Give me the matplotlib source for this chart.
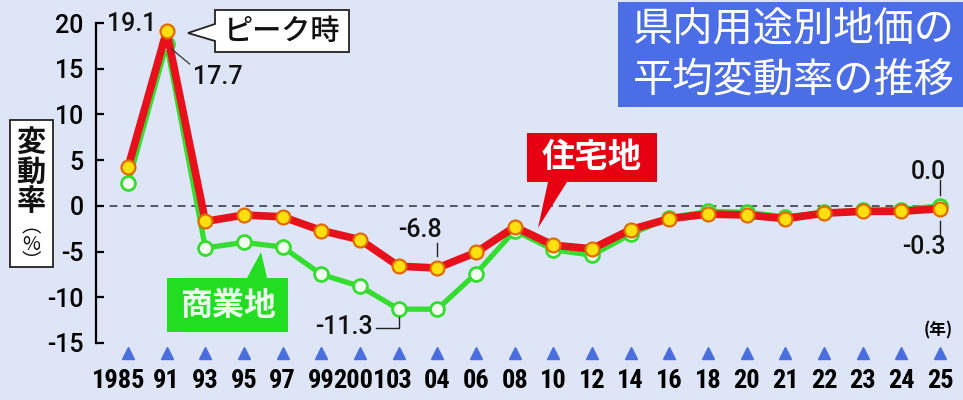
import matplotlib
matplotlib.use('Agg')
import matplotlib.pyplot as plt
from matplotlib.patches import Rectangle, Polygon
from matplotlib.lines import Line2D
from matplotlib.transforms import IdentityTransform, ScaledTranslation

# ---------------- data ----------------
years = ['1985', '91', '93', '95', '97', '99', '2001', '03', '04', '06', '08',
         '10', '12', '14', '16', '18', '20', '21', '22', '23', '24', '25']
residential = [4.2, 19.1, -1.7, -1.0, -1.2, -2.7, -3.7, -6.6, -6.8, -5.1, -2.3,
               -4.3, -4.7, -2.6, -1.4, -0.9, -1.0, -1.4, -0.8, -0.6, -0.6, -0.3]
commercial = [2.5, 17.7, -4.6, -4.0, -4.5, -7.5, -8.8, -11.3, -11.3, -7.4, -2.7,
              -4.8, -5.4, -3.1, -1.3, -0.6, -0.7, -1.2, -0.7, -0.5, -0.4, 0.0]
yticks = [20, 15, 10, 5, 0, -5, -10, -15]
title_lines = ['県内用途別地価の', '平均変動率の推移']
label_res = '住宅地'
label_com = '商業地'
peak_label = 'ピーク時'
ylabel_chars = ['変', '動', '率']
ylabel_unit = '︵\n%\n︶'
unit_label = '(年)'

# ---------------- style ----------------
W, H = 963, 400
BG = '#dde5f6'
RED = '#e8101a'
GREEN = '#35dd30'
YELLOW = '#ffdf10'
ORANGE = '#e06a00'
BLUE_TRI = '#4a6ee0'
TITLE_BLUE = '#4b6ee6'
CJK = ['Noto Sans CJK JP', 'DejaVu Sans']
NUM = ['Roboto', 'DejaVu Sans']
NUMN = ['Roboto Condensed', 'DejaVu Sans']

fig = plt.figure(figsize=(W / 100, H / 100), dpi=100)
fig.patch.set_facecolor(BG)


def fx(x):
    return x / W


def fy(y):
    return 1 - y / H


ax = fig.add_axes([fx(96), fy(343), fx(963) - fx(96), fy(23) - fy(343)])
ax.set_facecolor('none')
n = len(years)
xs = list(range(n))
step = (940 - 128) / (n - 1)
ax.set_xlim(-(128 - 96) / step, (n - 1) + (963 - 940) / step)
ax.set_ylim(-15, 20)

for s in ['top', 'right', 'bottom']:
    ax.spines[s].set_visible(False)
ax.spines['left'].set_linewidth(1.6)
ax.set_yticks(yticks)
ax.set_yticklabels([str(t) for t in yticks], fontsize=18, family=NUM, fontweight='medium')
ax.tick_params(axis='y', direction='in', length=6, width=1.6, pad=9)
ax.set_xticks(xs)
ax.set_xticklabels(years, fontsize=19, family=NUMN, fontweight='bold')
ax.tick_params(axis='x', length=0, pad=19)
# the first (4-digit) label sits slightly left of its marker, as in the original
first = ax.get_xticklabels()[0]
first.set_transform(first.get_transform() + ScaledTranslation(-9 / 100, 0, fig.dpi_scale_trans))

# zero dashed line
ax.axhline(0, xmin=0, xmax=(n - 1 + 0.83) / (n - 1 + 0.83 + 0.6),
           color='#555566', lw=1.4, ls=(0, (4, 3)), zorder=1)

# blue triangles under each category
tri = ax.plot(xs, [0] * n, ls='none', marker='^', ms=9, color=BLUE_TRI,
              transform=ax.get_xaxis_transform(), clip_on=False)[0]
tri.set_ydata([-0.03] * n)

# series
ax.plot(xs, commercial, color=GREEN, lw=3.8, marker='o', ms=10,
        mfc='#f2fff0', mec=GREEN, mew=2, zorder=3, clip_on=False)
ax.plot(xs, residential, color=RED, lw=5.5, marker='o', ms=10,
        mfc=YELLOW, mec=ORANGE, mew=1.6, zorder=4, clip_on=False)

fig.canvas.draw()


def disp(i, v, dx=0, dy=0):
    x, y = ax.transData.transform((i, v))
    return x + dx, y - dy


def line_px(pts, **kw):
    fig.add_artist(Line2D([p[0] for p in pts], [p[1] for p in pts],
                          transform=IdentityTransform(), **kw))


def text_px(x, y, s, **kw):
    fig.text(x / W, y / H, s, **kw)


VAL = dict(fontsize=18, family=NUM, fontweight='medium', color='#111111')

# value annotations
x, y = disp(1, residential[1], -10, -7)
text_px(x, y, f'{residential[1]:.1f}', ha='right', va='center', **VAL)

p0 = disp(1, commercial[1], 5, 5)
p1 = disp(1, commercial[1], 23, 20)
line_px([p0, p1], color='#333333', lw=0.9)
x, y = disp(1, commercial[1], 26, 33)
text_px(x, y, f'{commercial[1]:.1f}', ha='left', va='center', **VAL)

# -6.8 at 04
i = 8
line_px([disp(i, residential[i], 0, -25), disp(i, residential[i], 0, -12)], color='#222222', lw=1)
x, y = disp(i, residential[i], -17, -38)
text_px(x, y, f'{residential[i]:.1f}', ha='center', va='center', **VAL)

# -11.3 at 03
i = 7
line_px([disp(i, commercial[i], -23, 19), disp(i, commercial[i], 0, 19),
         disp(i, commercial[i], 0, 8)], color='#222222', lw=1)
x, y = disp(i, commercial[i], -26, 18)
text_px(x, y, f'{commercial[i]:.1f}', ha='right', va='center', **VAL)

# 2025 values
i = n - 1
line_px([disp(i, commercial[i], 0, -26), disp(i, commercial[i], 0, -11)], color='#222222', lw=1)
x, y = disp(i, commercial[i], 6, -34)
text_px(x, y, f'{commercial[i]:.1f}', ha='right', va='center', **VAL)
line_px([disp(i, residential[i], 0, 12), disp(i, residential[i], 0, 26)], color='#222222', lw=1)
x, y = disp(i, residential[i], 6, 38)
text_px(x, y, f'{residential[i]:.1f}', ha='right', va='center', **VAL)

# (年)
text_px(938, H - 330, unit_label, ha='center', va='center', fontsize=12,
        family=CJK, fontweight='bold')

# ---------------- boxes ----------------
# peak label with pointer
peak_poly = [(215, 10), (349, 10), (349, 52), (215, 52), (215, 41), (188, 33), (215, 24)]
fig.add_artist(Polygon([(fx(a), fy(b)) for a, b in peak_poly], closed=True,
                       transform=fig.transFigure, facecolor='white',
                       edgecolor='#222222', lw=1.3))
fig.text(fx(282), fy(31), peak_label, ha='center', va='center', fontsize=21,
         family=CJK, fontweight='medium', color='#111111')

# residential label
fig.add_artist(Polygon([(fx(a), fy(b)) for a, b in
                        [(527, 133), (657, 133), (657, 182), (567, 182), (538, 228), (548, 182), (527, 182)]],
                       closed=True, transform=fig.transFigure, facecolor='#e60012',
                       edgecolor='none'))
fig.text(fx(592), fy(158), label_res, ha='center', va='center', fontsize=24,
         family=CJK, fontweight='bold', color='white')

# commercial label
fig.add_artist(Polygon([(fx(a), fy(b)) for a, b in
                        [(167, 278), (247, 278), (261, 252), (267, 278), (288, 278), (288, 332), (167, 332)]],
                       closed=True, transform=fig.transFigure, facecolor='#22dd22',
                       edgecolor='none'))
fig.text(fx(228), fy(306), label_com, ha='center', va='center', fontsize=23,
         family=CJK, fontweight='bold', color='#eaffea')

# title box
fig.add_artist(Rectangle((fx(618), fy(107)), fx(963) - fx(618), fy(2) - fy(107),
                         transform=fig.transFigure, facecolor=TITLE_BLUE, edgecolor='none'))
fig.text(fx(633), fy(29), title_lines[0], ha='left', va='center', fontsize=29,
         family=CJK, color='white')
fig.text(fx(633), fy(80), title_lines[1], ha='left', va='center', fontsize=29,
         family=CJK, color='white')

# y label box (vertical)
fig.add_artist(Rectangle((fx(10), fy(267)), fx(53) - fx(10), fy(120) - fy(267),
                         transform=fig.transFigure, facecolor='white',
                         edgecolor='#222222', lw=1.3))
for ch, yy in zip(ylabel_chars, [142, 172, 201]):
    fig.text(fx(31), fy(yy), ch, ha='center', va='center', fontsize=21,
             family=CJK, fontweight='bold', color='#111111')
fig.text(fx(31), fy(244), ylabel_unit, ha='center', va='center', fontsize=14,
         family=CJK, color='#111111', linespacing=0.75, multialignment='center')

fig.savefig('out.png', dpi=100, facecolor=BG)
